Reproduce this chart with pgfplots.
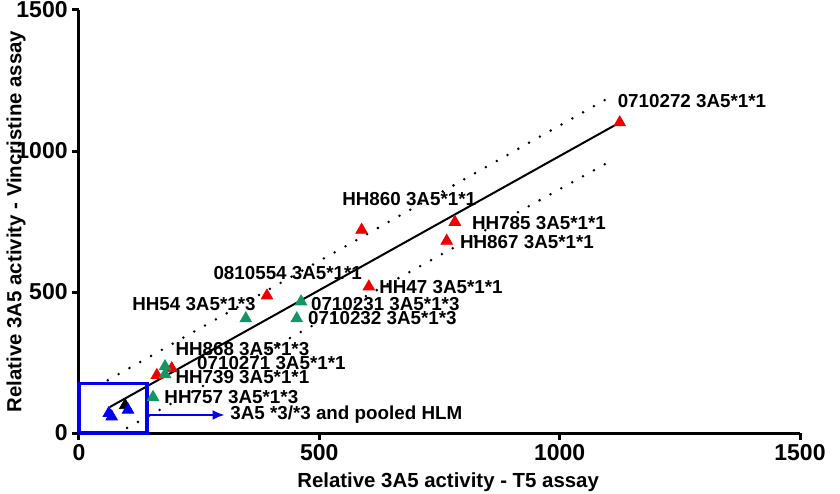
\documentclass[border=0pt]{standalone}
\usepackage{pgfplots}
\pgfplotsset{compat=1.18}
\usetikzlibrary{arrows.meta}
\usepackage{fontspec}
\setmainfont{Liberation Sans}
\definecolor{myred}{RGB}{240,0,0}
\definecolor{mygreen}{RGB}{20,150,100}
\definecolor{myblue}{RGB}{0,0,240}
\begin{document}
\begin{tikzpicture}
\begin{axis}[name=ax, scale only axis, width=360.5pt, height=211.5pt,
  xmin=0, xmax=1500, ymin=0, ymax=1500,
  axis x line*=bottom, axis y line*=left,
  axis line style={line width=1.5pt,-},
  xtick={0,500,1000,1500}, ytick={0,500,1000,1500},
  tick style={line width=1.5pt,black}, tick align=outside, major tick length=3.5pt,
  /pgf/number format/assume math mode=true,
  /pgf/number format/set thousands separator={},
  ticklabel style={font=\fontsize{11.5}{13}\selectfont\bfseries},
  xticklabel style={inner sep=2pt},
  yticklabel style={inner sep=2pt},
  xlabel={Relative 3A5 activity - T5 assay},
  ylabel={Relative 3A5 activity - Vincristine assay},
  label style={font=\fontsize{10.2}{12}\selectfont\bfseries},
  xlabel style={at={(axis description cs:0.512,-0.1155)}, anchor=center},
  ylabel style={at={(axis description cs:-0.0874,0.5)}, anchor=center},
  clip=false,
]
% regression line and prediction bands
\addplot[black, line width=1pt] coordinates {(64,92) (1125,1101)};
\addplot[black, line width=1.4pt, line cap=round, dash pattern=on 0pt off 6.2pt] coordinates {(60,187) (1114,1200)};
\addplot[black, line width=1.4pt, line cap=round, dash pattern=on 0pt off 6.2pt] coordinates {(100,18) (1112,970)};
% points
\addplot[only marks, mark=triangle*, mark size=3.3pt, color=myred] coordinates {
(1125,1101) (588,720) (782,748) (765,681) (603,519) (391,487) (193,229) (162,205)};
\addplot[only marks, mark=triangle*, mark size=3.3pt, color=mygreen] coordinates {
(347,406) (462,466) (453,406) (179,236) (179,208) (154,127)};
\addplot[only marks, mark=triangle*, mark size=3.3pt, color=black] coordinates {(96,98)};
\addplot[only marks, mark=triangle*, mark size=3.3pt, color=myblue] coordinates {(62,70) (68,58) (102,82)};
% box and arrow
\addplot[myblue, line width=1.8pt, line join=miter] coordinates {(0,0) (141,0) (141,176) (0,176) (0,0)};
\addplot[myblue, line width=1.2pt, -{Latex[length=6pt,width=5pt]}] coordinates {(141,64) (303,64)};
% labels
\begin{scope}[every node/.style={anchor=west, inner sep=0pt, font=\fontsize{9.4}{11}\selectfont\bfseries}]
\node at (axis cs:1120,1178) {0710272 3A5*1*1};
\node at (axis cs:547,830) {HH860 3A5*1*1};
\node at (axis cs:817,745) {HH785 3A5*1*1};
\node at (axis cs:792,678) {HH867 3A5*1*1};
\node at (axis cs:624,516) {HH47 3A5*1*1};
\node at (axis cs:279,569) {0810554 3A5*1*1};
\node at (axis cs:482,459) {0710231 3A5*1*3};
\node at (axis cs:476,406) {0710232 3A5*1*3};
\node at (axis cs:110,459) {HH54 3A5*1*3};
\node at (axis cs:200,297) {HH868 3A5*1*3};
\node at (axis cs:245,247) {0710271 3A5*1*1};
\node at (axis cs:200,198) {HH739 3A5*1*1};
\node at (axis cs:177,127) {HH757 3A5*1*3};
\node at (axis cs:314,64) {3A5 *3/*3 and pooled HLM};
\end{scope}
\end{axis}
\pgfresetboundingbox
\path ([xshift=-39.5pt,yshift=-30pt]ax.south west) rectangle ([xshift=20pt,yshift=5pt]ax.north east);
\end{tikzpicture}
\end{document}
